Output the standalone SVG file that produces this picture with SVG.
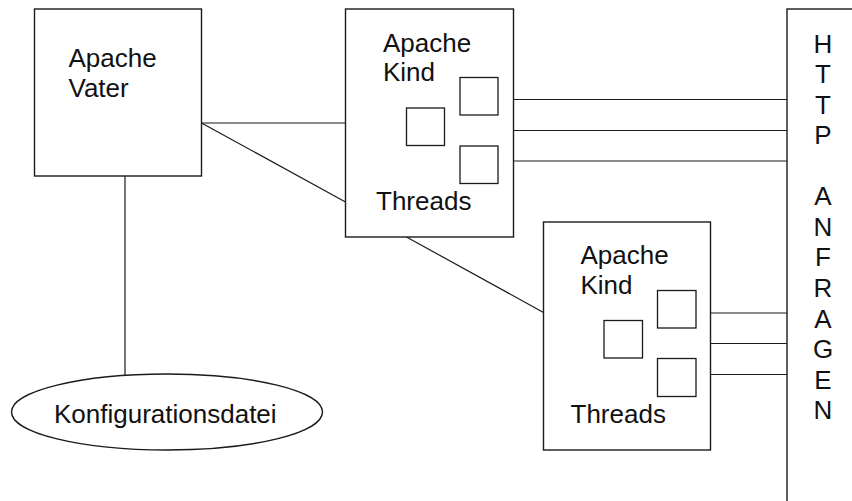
<svg xmlns="http://www.w3.org/2000/svg" width="852" height="501" viewBox="0 0 852 501">
<style>
.box{fill:#fff;stroke:#1a1a1a;stroke-width:1.4}
.sq{fill:#fff;stroke:#1a1a1a;stroke-width:1.3}
.ln{fill:none;stroke:#1a1a1a;stroke-width:1.2}
text{font-family:"Liberation Sans",Arial,sans-serif;font-size:26px;fill:#111}
.v{text-anchor:middle}
</style>
<rect width="852" height="501" fill="#fff"/>
<g id="connectors">
<line class="ln" x1="201.5" y1="123" x2="345.5" y2="123"/>
<line class="ln" x1="201.5" y1="123" x2="345.5" y2="202"/>
<line class="ln" x1="125" y1="176" x2="125" y2="375.5"/>
<line class="ln" x1="406.5" y1="237" x2="543.5" y2="312.5"/>
<line class="ln" x1="498" y1="99.5" x2="787" y2="99.5"/>
<line class="ln" x1="444.5" y1="130.5" x2="787" y2="130.5"/>
<line class="ln" x1="498" y1="161" x2="787" y2="161"/>
<line class="ln" x1="696" y1="313" x2="787" y2="313"/>
<line class="ln" x1="642.5" y1="343.5" x2="787" y2="343.5"/>
<line class="ln" x1="696" y1="374.5" x2="787" y2="374.5"/>
</g>
<g id="vater">
<rect class="box" x="34.5" y="9" width="167" height="167"/>
<text x="68.5" y="66.5">Apache</text>
<text x="68.5" y="96.5">Vater</text>
</g>
<g id="konfig">
<ellipse class="box" cx="167" cy="412" rx="155.5" ry="38"/>
<text x="54" y="423">Konfigurationsdatei</text>
</g>
<g id="kind1">
<rect class="box" x="345.5" y="9" width="168" height="228"/>
<text x="383" y="52">Apache</text>
<text x="383" y="81">Kind</text>
<text x="376" y="209.5">Threads</text>
<rect class="sq" x="460" y="77.5" width="38" height="37.5"/>
<rect class="sq" x="406.5" y="108" width="38" height="37.5"/>
<rect class="sq" x="460" y="146" width="38" height="37.5"/>
</g>
<g id="kind2">
<rect class="box" x="543.5" y="222" width="167" height="228"/>
<text x="580.5" y="263.5">Apache</text>
<text x="580.5" y="293.5">Kind</text>
<text x="570.5" y="422.5">Threads</text>
<rect class="sq" x="657.5" y="290.5" width="38.5" height="37.5"/>
<rect class="sq" x="604" y="320.5" width="38.5" height="37.5"/>
<rect class="sq" x="657.5" y="358.5" width="38.5" height="38"/>
</g>
<g id="http">
<rect class="box" x="787" y="9" width="100" height="520"/>
<text class="v" x="823" y="52.5">H</text>
<text class="v" x="823" y="83">T</text>
<text class="v" x="823" y="113.5">T</text>
<text class="v" x="823" y="144">P</text>
<text class="v" x="823" y="205">A</text>
<text class="v" x="823" y="235.5">N</text>
<text class="v" x="823" y="266">F</text>
<text class="v" x="823" y="296.5">R</text>
<text class="v" x="823" y="327.5">A</text>
<text class="v" x="823" y="358">G</text>
<text class="v" x="823" y="388.5">E</text>
<text class="v" x="823" y="419">N</text>
</g>
</svg>
